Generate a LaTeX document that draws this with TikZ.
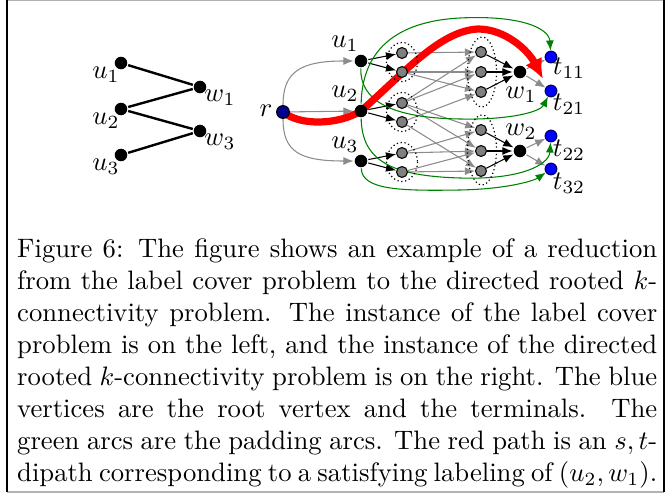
\documentclass[tikz,border=0pt]{standalone}
\usetikzlibrary{arrows.meta,backgrounds}

\tikzset{every picture/.style={line width=0.9pt}}
\tikzset{
  vtx/.style={circle,fill=black,inner sep=0pt,minimum size=4.7pt},
  lbl/.style={circle,draw=black,fill=gray,line width=0.4pt,inner sep=0pt,minimum size=4.1pt},
  term/.style={circle,draw=blue!40!black,fill=blue,line width=0.4pt,inner sep=0pt,minimum size=4.4pt},
  rootv/.style={circle,draw=black,fill=blue!55!black,line width=0.4pt,inner sep=0pt,minimum size=4.8pt},
  txt/.style={inner sep=0.75pt},
  garc/.style={gray!90,-{Latex[length=3.8pt,width=3pt]}},
  barc/.style={black,-{Latex[length=3.8pt,width=3pt]}},
  parc/.style={green!50!black,-{Latex[length=3.8pt,width=3pt]}},
  rpath/.style={red,line width=2.7pt,-{Latex[length=7.5pt,width=7pt]}},
  grp/.style={densely dotted,line width=0.45pt},
}

\begin{document}
\begin{tikzpicture}[x=0.375pt,y=0.375pt,yscale=-1,xscale=1]
\useasboundingbox (0,0) rectangle (669,495);

%Frame
\draw[gray!60,line width=0.5pt] (7,0.5) -- (664,0.5);
\draw[gray!60,line width=0.5pt] (7,492) -- (664,492);
\draw[line width=0.9pt] (7,0) -- (7,492);
\draw[line width=0.9pt] (664,0) -- (664,492);

%Label cover instance
\node[vtx] (lu1) at (121,63) {};
\node[vtx] (lu2) at (121,109) {};
\node[vtx] (lu3) at (121,155) {};
\node[vtx] (lw1) at (200,87) {};
\node[vtx] (lw3) at (200,131) {};
\draw (lu1) -- (lw1);
\draw (lu2) -- (lw1);
\draw (lu2) -- (lw3);
\draw (lu3) -- (lw3);

% Text Node
\node[txt] (tlu1) at (106,75) {$u_1$};
% Text Node
\node[txt] (tlu2) at (106,121) {$u_2$};
% Text Node
\node[txt] (tlu3) at (106,167) {$u_3$};
% Text Node
\node[txt] (tlw1) at (220,98) {$w_1$};
% Text Node
\node[txt] (tlw3) at (220,142) {$w_3$};

%Rooted k-connectivity instance
\node[rootv] (r) at (283,112) {};
\node[vtx] (u1) at (361,61) {};
\node[vtx] (u2) at (361,111) {};
\node[vtx] (u3) at (361,161) {};
\node[lbl] (u1a) at (402,53) {};
\node[lbl] (u1b) at (402,72) {};
\node[lbl] (u2a) at (402,103) {};
\node[lbl] (u2b) at (402,122) {};
\node[lbl] (u3a) at (402,153) {};
\node[lbl] (u3b) at (402,172) {};
\node[lbl] (w1a) at (481,52) {};
\node[lbl] (w1b) at (481,72) {};
\node[lbl] (w1c) at (481,92) {};
\node[lbl] (w2a) at (481,130) {};
\node[lbl] (w2b) at (481,151) {};
\node[lbl] (w2c) at (481,171) {};
\node[vtx] (w1) at (520,72) {};
\node[vtx] (w2) at (520,151) {};
\node[term] (t11) at (551,57) {};
\node[term] (t21) at (551,91) {};
\node[term] (t22) at (551,136) {};
\node[term] (t32) at (551,169) {};
\coordinate (redtip) at (543,79);

%Groups of label copies
\draw[grp] (402,62) ellipse (15.5 and 19.5);
\draw[grp] (402,112) ellipse (15.5 and 19.5);
\draw[grp] (402,162) ellipse (15.5 and 19.5);
\draw[grp] (482,72) ellipse (14.5 and 35);
\draw[grp] (482,150) ellipse (14.5 and 35);

\begin{scope}[on background layer]
%Root arcs
\draw[garc] (r) .. controls (283,72) and (300,61) .. (u1);
\draw[garc] (r) -- (u2);
\draw[garc] (r) .. controls (283,152) and (300,161) .. (u3);
%Label arcs
\draw[barc] (u1) -- (u1a);
\draw[barc] (u1) -- (u1b);
\draw[barc] (u2) -- (u2a);
\draw[barc] (u2) -- (u2b);
\draw[barc] (u3) -- (u3a);
\draw[barc] (u3) -- (u3b);
\draw[barc] (w1a) -- (w1);
\draw[barc] (w1b) -- (w1);
\draw[barc] (w1c) -- (w1);
\draw[barc] (w2a) -- (w2);
\draw[barc] (w2b) -- (w2);
\draw[barc] (w2c) -- (w2);
%Constraint arcs
\draw[garc] (u1a) -- (w1a);
\draw[garc] (u1b) -- (w1b);
\draw[garc] (u1b) -- (w1c);
\draw[garc] (u2a) -- (w1a);
\draw[garc] (u2a) -- (w1b);
\draw[garc] (u2b) -- (w1c);
\draw[garc] (u2a) -- (w2a);
\draw[garc] (u2a) -- (w2b);
\draw[garc] (u2b) -- (w2c);
\draw[garc] (u3a) -- (w2a);
\draw[garc] (u3a) -- (w2b);
\draw[garc] (u3b) -- (w2b);
\draw[garc] (u3b) -- (w2c);
%Terminal arcs
\draw[garc] (w1) -- (t11);
\draw[garc] (w1) -- (t21);
\draw[garc] (w2) -- (t22);
\draw[garc] (w2) -- (t32);
%Padding arcs
\draw[parc] (u2) .. controls (362,60) and (385,22) .. (460,18) .. controls (520,15) and (549,28) .. (t11);
\draw[parc] (u1) .. controls (360,100) and (390,118) .. (460,119) .. controls (510,120) and (540,112) .. (t21);
\draw[parc] (u2) .. controls (362,160) and (390,176) .. (460,178) .. controls (520,180) and (549,165) .. (t22);
\draw[parc] (u3) .. controls (362,190) and (400,191) .. (460,190) .. controls (510,189) and (535,180) .. (t32);
%Red path
\draw[rpath] (r.center) .. controls (300,126) and (338,125) .. (u2.center) .. controls (405,72) and (440,31) .. (478,29) .. controls (505,29) and (528,50) .. (redtip);
\end{scope}

% Text Node
\node[txt] (tr) at (266,111) {$r$};
% Text Node
\node[txt] (tu1) at (345,44) {$u_1$};
% Text Node
\node[txt] (tu2) at (345,94) {$u_2$};
% Text Node
\node[txt] (tu3) at (345,145) {$u_3$};
% Text Node
\node[txt] (tw1) at (521,95) {$w_1$};
% Text Node
\node[txt] (tw2) at (521,132) {$w_2$};
% Text Node
\node[txt] (tt11) at (569,68) {$t_{11}$};
% Text Node
\node[txt] (tt21) at (569,104) {$t_{21}$};
% Text Node
\node[txt] (tt22) at (569,150) {$t_{22}$};
% Text Node
\node[txt] (tt32) at (569,183) {$t_{32}$};

%Caption
\node[anchor=north west,inner sep=0pt,text width=240pt,align=justify] (cap) at (16,238)
{Figure 6: The figure shows an example of a reduction\linebreak
from the label cover problem to the directed rooted $k$-\linebreak
connectivity problem. The instance of the label cover\linebreak
problem is on the left, and the instance of the directed\linebreak
rooted $k$-connectivity problem is on the right. The blue\linebreak
vertices are the root vertex and the terminals. The\linebreak
green arcs are the padding arcs. The red path is an $s,t$-\linebreak
dipath corresponding to a satisfying labeling of $(u_2,w_1)$.};

\end{tikzpicture}
\end{document}
